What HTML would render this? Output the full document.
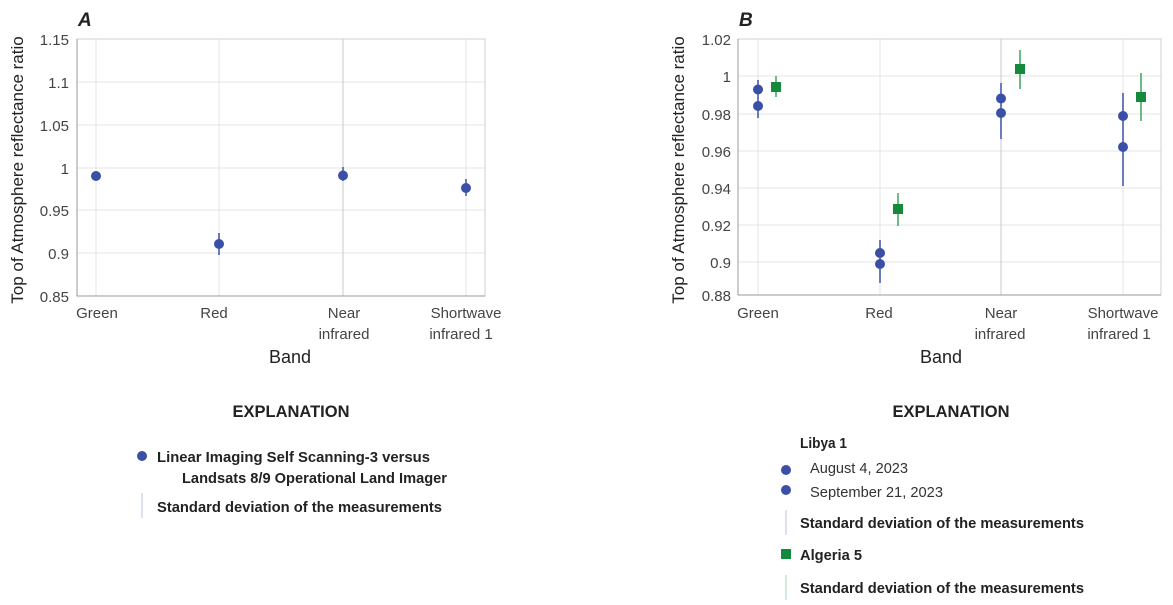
<!DOCTYPE html>
<html><head><meta charset="utf-8"><style>
html,body{margin:0;padding:0;background:#fff;}
svg{display:block;}
text{font-family:"Liberation Sans Narrow","Liberation Sans",sans-serif;fill:#222;}
.t{font-size:15px;fill:#444;}
.b{font-weight:bold;font-size:15px;fill:#222;}
</style></head><body>
<svg width="1173" height="605" viewBox="0 0 1173 605" xmlns="http://www.w3.org/2000/svg">
<!-- Chart A -->
<g stroke="#e4e4e4" stroke-width="1">
<line x1="77" y1="82" x2="485" y2="82"/><line x1="77" y1="125" x2="485" y2="125"/>
<line x1="77" y1="168" x2="485" y2="168"/><line x1="77" y1="210" x2="485" y2="210"/>
<line x1="77" y1="253" x2="485" y2="253"/>
<line x1="96" y1="39" x2="96" y2="296"/><line x1="219" y1="39" x2="219" y2="296"/>
<line x1="466" y1="39" x2="466" y2="296"/>
</g>
<line x1="343" y1="39" x2="343" y2="296" stroke="#c8c8c8"/>
<rect x="77" y="39" width="408" height="257" fill="none" stroke="#d0d0d0"/>
<line x1="77" y1="39" x2="77" y2="296" stroke="#999"/><line x1="77" y1="296" x2="485" y2="296" stroke="#999"/>
<text x="78" y="26" style="font-family:'Liberation Sans',sans-serif;font-weight:bold;font-style:italic;font-size:19px;fill:#222">A</text>
<g class="t" text-anchor="end">
<text x="69" y="45" class="t">1.15</text><text x="69" y="88" class="t">1.1</text>
<text x="69" y="131" class="t">1.05</text><text x="69" y="174" class="t">1</text>
<text x="69" y="216" class="t">0.95</text><text x="69" y="259" class="t">0.9</text>
<text x="69" y="302" class="t">0.85</text>
</g>
<text transform="translate(23,170) rotate(-90)" text-anchor="middle" style="font-size:17px;fill:#222">Top of Atmosphere reflectance ratio</text>
<g text-anchor="middle">
<text x="97" y="318" class="t">Green</text><text x="214" y="318" class="t">Red</text>
<text x="344" y="318" class="t">Near</text><text x="344" y="339" class="t">infrared</text>
<text x="466" y="318" class="t">Shortwave</text><text x="461" y="339" class="t">infrared 1</text>
<text x="290" y="363" style="font-size:18px;fill:#222">Band</text>
</g>
<g stroke="#3a4fa6" stroke-width="1.5">
<line x1="219" y1="233" x2="219" y2="255"/><line x1="343" y1="167" x2="343" y2="181"/>
<line x1="466" y1="179" x2="466" y2="196"/>
</g>
<g fill="#3a4fa6">
<circle cx="96" cy="176" r="5"/><circle cx="219" cy="244" r="5"/>
<circle cx="343" cy="175.5" r="5"/><circle cx="466" cy="188" r="5"/>
</g>
<!-- Legend A -->
<text x="291" y="417" text-anchor="middle" class="b" style="font-size:17px" textLength="117" lengthAdjust="spacingAndGlyphs">EXPLANATION</text>
<circle cx="142" cy="456" r="5" fill="#3a4fa6"/>
<text x="157" y="462" class="b" textLength="273" lengthAdjust="spacingAndGlyphs">Linear Imaging Self Scanning-3 versus</text>
<text x="182" y="483" class="b" textLength="265" lengthAdjust="spacingAndGlyphs">Landsats 8/9 Operational Land Imager</text>
<line x1="142" y1="493" x2="142" y2="518" stroke="#b8c0e0"/>
<text x="157" y="512" class="b" textLength="285" lengthAdjust="spacingAndGlyphs">Standard deviation of the measurements</text>

<!-- Chart B -->
<g stroke="#e4e4e4" stroke-width="1">
<line x1="738" y1="76" x2="1161" y2="76"/><line x1="738" y1="114" x2="1161" y2="114"/>
<line x1="738" y1="151" x2="1161" y2="151"/><line x1="738" y1="188" x2="1161" y2="188"/>
<line x1="738" y1="225" x2="1161" y2="225"/><line x1="738" y1="262" x2="1161" y2="262"/>
<line x1="758" y1="39" x2="758" y2="295"/><line x1="880" y1="39" x2="880" y2="295"/>
<line x1="1123" y1="39" x2="1123" y2="295"/>
</g>
<line x1="1001" y1="39" x2="1001" y2="295" stroke="#c8c8c8"/>
<rect x="738" y="39" width="423" height="256" fill="none" stroke="#d0d0d0"/>
<line x1="738" y1="39" x2="738" y2="295" stroke="#999"/><line x1="738" y1="295" x2="1161" y2="295" stroke="#999"/>
<text x="739" y="26" style="font-family:'Liberation Sans',sans-serif;font-weight:bold;font-style:italic;font-size:19px;fill:#222">B</text>
<g text-anchor="end">
<text x="731" y="45" class="t">1.02</text><text x="731" y="82" class="t">1</text>
<text x="731" y="120" class="t">0.98</text><text x="731" y="157" class="t">0.96</text>
<text x="731" y="194" class="t">0.94</text><text x="731" y="231" class="t">0.92</text>
<text x="731" y="268" class="t">0.9</text><text x="731" y="301" class="t">0.88</text>
</g>
<text transform="translate(684,170) rotate(-90)" text-anchor="middle" style="font-size:17px;fill:#222">Top of Atmosphere reflectance ratio</text>
<g text-anchor="middle">
<text x="758" y="318" class="t">Green</text><text x="879" y="318" class="t">Red</text>
<text x="1001" y="318" class="t">Near</text><text x="1000" y="339" class="t">infrared</text>
<text x="1123" y="318" class="t">Shortwave</text><text x="1119" y="339" class="t">infrared 1</text>
<text x="941" y="363" style="font-size:18px;fill:#222">Band</text>
</g>
<g stroke="#3a4fa6" stroke-width="1.5">
<line x1="758" y1="80" x2="758" y2="118"/><line x1="880" y1="240" x2="880" y2="283"/>
<line x1="1001" y1="83" x2="1001" y2="139"/><line x1="1123" y1="93" x2="1123" y2="186"/>
</g>
<g stroke="#3aa55a" stroke-width="1.5">
<line x1="776" y1="76" x2="776" y2="97"/><line x1="898" y1="193" x2="898" y2="226"/>
<line x1="1020" y1="50" x2="1020" y2="89"/><line x1="1141" y1="73" x2="1141" y2="121"/>
</g>
<g fill="#3a4fa6">
<circle cx="758" cy="89.5" r="5"/><circle cx="758" cy="106" r="5"/>
<circle cx="880" cy="253" r="5"/><circle cx="880" cy="264" r="5"/>
<circle cx="1001" cy="98.5" r="5"/><circle cx="1001" cy="113" r="5"/>
<circle cx="1123" cy="116" r="5"/><circle cx="1123" cy="147" r="5"/>
</g>
<g fill="#138a3c">
<rect x="771" y="82" width="10" height="10"/><rect x="893" y="204" width="10" height="10"/>
<rect x="1015" y="64" width="10" height="10"/><rect x="1136" y="92" width="10" height="10"/>
</g>
<!-- Legend B -->
<text x="951" y="417" text-anchor="middle" class="b" style="font-size:17px" textLength="117" lengthAdjust="spacingAndGlyphs">EXPLANATION</text>
<text x="800" y="448" class="b" textLength="47" lengthAdjust="spacingAndGlyphs">Libya 1</text>
<circle cx="786" cy="470" r="5" fill="#3a4fa6"/>
<text x="810" y="473" class="t" style="fill:#333" textLength="98" lengthAdjust="spacingAndGlyphs">August 4, 2023</text>
<circle cx="786" cy="490" r="5" fill="#3a4fa6"/>
<text x="810" y="497" class="t" style="fill:#333" textLength="133" lengthAdjust="spacingAndGlyphs">September 21, 2023</text>
<line x1="786" y1="510" x2="786" y2="535" stroke="#b8c0e0"/>
<text x="800" y="528" class="b" textLength="284" lengthAdjust="spacingAndGlyphs">Standard deviation of the measurements</text>
<rect x="781" y="549" width="10" height="10" fill="#138a3c"/>
<text x="800" y="560" class="b" textLength="62" lengthAdjust="spacingAndGlyphs">Algeria 5</text>
<line x1="786" y1="575" x2="786" y2="600" stroke="#a8d8b4"/>
<text x="800" y="593" class="b" textLength="284" lengthAdjust="spacingAndGlyphs">Standard deviation of the measurements</text>
</svg>
</body></html>
